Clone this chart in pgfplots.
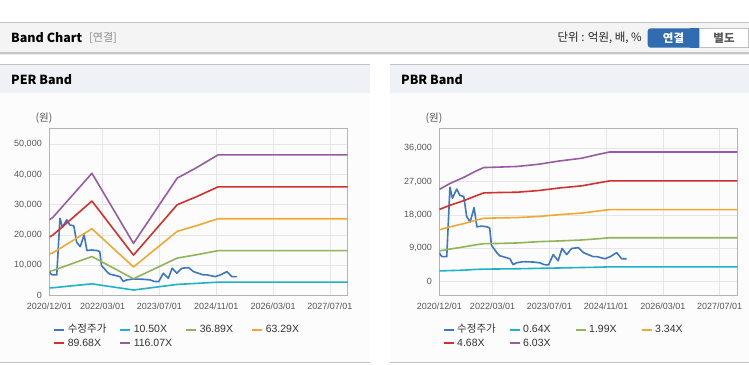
\documentclass[border=0pt]{standalone}
\usepackage{pgfplots}
\pgfplotsset{compat=1.18}
\usepackage{pgfplotstable}
\usepackage{fontspec}
\setmainfont{Liberation Sans}
\newfontfamily\kr{Noto Sans CJK KR}

\definecolor{cPrice}{HTML}{3D76C3}
\definecolor{cCyan}{HTML}{20B2C6}
\definecolor{cGreen}{HTML}{8FB45A}
\definecolor{cOrange}{HTML}{F0A835}
\definecolor{cRed}{HTML}{D2322D}
\definecolor{cPurple}{HTML}{9A5AA3}
\definecolor{hdrBg}{HTML}{F4F4F4}
\definecolor{panelHdr}{HTML}{EEF1F6}
\definecolor{panelBody}{HTML}{FCFCFC}
\definecolor{lineGray}{HTML}{C4C4C4}
\definecolor{gridGray}{HTML}{E6E6E6}
\definecolor{frameGray}{HTML}{B4B4B4}
\definecolor{labelGray}{HTML}{555555}
\definecolor{btnBlue}{HTML}{2F6DB0}

% month index: 0 = 2020/12
\pgfplotstableread{
m price
0 7840
0.5 7000
0.9 6740
2.1 6740
3.0 25500
3.7 22500
4.9 25000
5.8 23300
6.9 23000
7.7 17600
8.7 16100
9.8 20000
10.6 14800
11.9 15000
13.5 14800
14.2 14500
14.7 9800
15.5 8800
16.2 7840
17 7000
18 6740
19.9 6180
20.8 4600
21.8 5100
23.7 5400
26.5 5300
28.4 5080
29.5 4600
30.8 4520
32.1 7300
33.5 5650
34.6 8970
35.9 7310
37.3 8970
39.2 9170
40.6 7840
43.4 6740
44.5 6740
46.7 6180
48.3 6800
50 7840
51.4 6180
52.8 6180
}\pricetable

\pgfplotstableread{
m cyan green orange red purple
0 2450 7950 13630 19300 25000
1 2500 8200 14070 19930 25800
12 3800 12840 22030 31200 40400
23.7 1750 5470 9380 13300 17200
36 3600 12330 21160 29980 38800
41.5 3950 13440 23070 32680 42300
47.5 4350 14780 25360 35900 46500
84 4350 14780 25360 35900 46500
}\pertable

\pgfplotstableread{
m cyan green orange red purple
0 2900 8300 14000 19500 24900
3 2990 8800 14800 20600 26500
7 3100 9400 15700 21900 28200
10 3300 9900 16500 23050 29700
12.5 3380 10250 17100 23950 30800
16 3420 10300 17200 24050 30900
22 3480 10450 17300 24150 31100
28 3600 10800 17600 24600 31700
34 3700 11000 18100 25300 32600
40 3820 11250 18500 25850 33300
45 3900 11600 19100 26700 34400
48 4000 11850 19450 27200 35000
84 4000 11850 19450 27200 35000
}\pbrtable

\pgfplotsset{
  bandaxis/.style={
    scale only axis, width=298.4pt, height=167.3pt, anchor=south west,
    xmin=0, xmax=84,
    xtick={0,15,31,47,63,79},
    xticklabels={2020/12/01,2022/03/01,2023/07/01,2024/11/01,2026/03/01,2027/07/01},
    grid=major, major grid style={gridGray, line width=0.6pt},
    axis line style={frameGray, line width=0.8pt},
    tick style={draw=none},
    tick label style={font=\fontsize{9}{10}\selectfont, text=labelGray},
    /pgf/number format/assume math mode=true,
    /pgf/number format/1000 sep={,},
    scaled y ticks=false,
    yticklabel style={xshift=-4pt},
    xticklabel style={yshift=-4pt},
    legend columns=4,
    legend cell align=left,
    legend image code/.code={\draw[##1, line width=2pt] (0pt,0pt) -- (10pt,0pt);},
    legend style={draw=none, fill=none, inner sep=0pt, outer sep=0pt,
      font=\fontsize{10.5}{12}\selectfont, text=black!80,
      column sep=0pt,
      nodes={inner xsep=2.5pt, inner ysep=1.4pt, text width=49pt, text height=8pt, text depth=2.5pt, align=left},
      anchor=north west},
    every axis plot/.append style={line width=1.6pt, mark=none, line join=round},
  }
}

\begin{document}
\begin{tikzpicture}
\begin{scope}[x=1pt,y=1pt]
\path[use as bounding box] (0,0) rectangle (749,364);
\fill[white] (0,0) rectangle (749,364);
% top header bar
\fill[hdrBg] (0,311.3) rectangle (749,341.7);
\draw[lineGray, line width=1pt] (0,341.7) -- (749,341.7);
\fill[black!22] (0,310.3) rectangle (749,311.6);
\fill[black!8] (0,308.8) rectangle (749,310.3);
\node[anchor=west, inner sep=0pt, font=\kr\bfseries\fontsize{12.5}{14}\selectfont] at (11,326) {Band Chart};
\node[anchor=west, inner sep=0pt, font=\kr\fontsize{11}{13}\selectfont, text=black!45] at (89,326) {[연결]};
\node[anchor=east, inner sep=0pt, font=\kr\fontsize{11.5}{13}\selectfont, text=black!85] at (642,326) {단위 : 억원, 배, \%};
\fill[btnBlue, rounded corners=3pt] (647.7,316.3) rectangle (699.3,335.7);
\fill[btnBlue] (690,316.3) rectangle (699.3,335.7);
\draw[black!25, fill=white] (699.3,316.3) rectangle (748.5,335.7);
\node[inner sep=0pt, font=\kr\bfseries\fontsize{11.5}{13}\selectfont, text=white] at (673.5,326) {연결};
\node[inner sep=0pt, font=\kr\bfseries\fontsize{11.5}{13}\selectfont, text=black!65] at (724,326) {별도};
% panels
\fill[panelHdr] (0,271.3) rectangle (370,299.7);
\fill[panelBody] (0,1.3) rectangle (370,271.3);
\draw[lineGray, line width=1pt] (0,299.7) -- (370,299.7);
\draw[lineGray, line width=1pt] (0,1.3) -- (370,1.3);
\fill[panelHdr] (390,271.3) rectangle (749,299.7);
\fill[panelBody] (390,1.3) rectangle (749,271.3);
\draw[lineGray, line width=1pt] (390,299.7) -- (749,299.7);
\draw[lineGray, line width=1pt] (390,1.3) -- (749,1.3);
\node[anchor=west, inner sep=0pt, font=\kr\bfseries\fontsize{12.5}{14}\selectfont] at (11,284.5) {PER Band};
\node[anchor=west, inner sep=0pt, font=\kr\bfseries\fontsize{12.5}{14}\selectfont] at (401,284.5) {PBR Band};
\node[inner sep=0pt, font=\kr\fontsize{10.5}{12}\selectfont, text=labelGray] at (44,245.7) {(원)};
\node[inner sep=0pt, font=\kr\fontsize{10.5}{12}\selectfont, text=labelGray] at (434,245.7) {(원)};
\end{scope}

\begin{axis}[bandaxis, at={(49.3pt,68.7pt)},
  ymin=0, ymax=55400, ytick={0,10000,20000,30000,40000,50000},
  legend style={at={(0.0134,-0.168)}}]
\addplot[cPrice] table[x=m, y=price] {\pricetable};
\addlegendentry{{\kr 수정주가}}
\addplot[cCyan] table[x=m, y=cyan] {\pertable};
\addlegendentry{10.50X}
\addplot[cGreen] table[x=m, y=green] {\pertable};
\addlegendentry{36.89X}
\addplot[cOrange] table[x=m, y=orange] {\pertable};
\addlegendentry{63.29X}
\addplot[cRed] table[x=m, y=red] {\pertable};
\addlegendentry{89.68X}
\addplot[cPurple] table[x=m, y=purple] {\pertable};
\addlegendentry{116.07X}
\end{axis}

\begin{axis}[bandaxis, at={(439.3pt,69pt)}, width=298pt, height=166.7pt,
  ymin=-3600, ymax=41400, ytick={0,9000,18000,27000,36000},
  legend style={at={(0.0114,-0.17)}}]
\addplot[cPrice] table[x=m, y=price] {\pricetable};
\addlegendentry{{\kr 수정주가}}
\addplot[cCyan] table[x=m, y=cyan] {\pbrtable};
\addlegendentry{0.64X}
\addplot[cGreen] table[x=m, y=green] {\pbrtable};
\addlegendentry{1.99X}
\addplot[cOrange] table[x=m, y=orange] {\pbrtable};
\addlegendentry{3.34X}
\addplot[cRed] table[x=m, y=red] {\pbrtable};
\addlegendentry{4.68X}
\addplot[cPurple] table[x=m, y=purple] {\pbrtable};
\addlegendentry{6.03X}
\end{axis}
\end{tikzpicture}
\end{document}
